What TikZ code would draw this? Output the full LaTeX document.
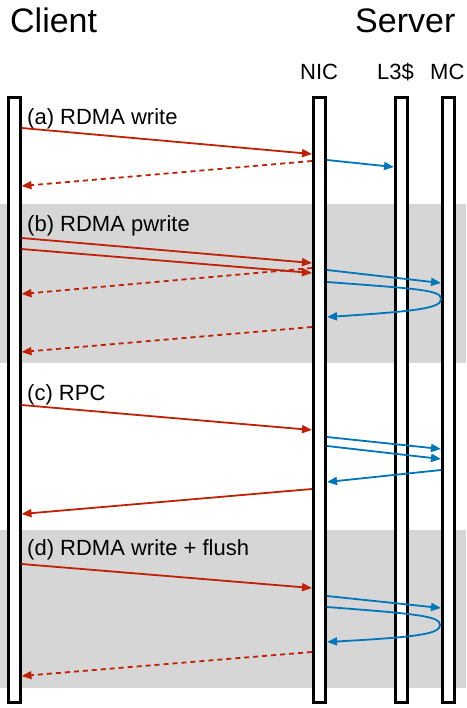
\documentclass[tikz,border=0pt]{standalone}
\usepackage{fontspec}
\setmainfont{Liberation Sans}
\usetikzlibrary{arrows.meta}
\definecolor{myred}{RGB}{192,32,4}
\definecolor{myblue}{RGB}{0,118,186}
\definecolor{band}{RGB}{214,214,214}
\begin{document}
\begin{tikzpicture}[x=1pt,y=-1pt,
  bar/.style={draw=black,fill=white,line width=3pt,rectangle,minimum width=12pt,minimum height=605pt,inner sep=0pt},
  tip/.style={-{Triangle[length=10pt,width=8pt]}},
  req/.style={tip,draw=myred,line width=1.8pt},
  ack/.style={req,dash pattern=on 5pt off 4pt},
  mem/.style={tip,draw=myblue,line width=1.8pt},
  lbl/.style={font=\fontsize{22}{26}\selectfont,inner sep=0pt,anchor=base west},
  big/.style={font=\fontsize{34}{40}\selectfont,inner sep=0pt,anchor=base west}]
\useasboundingbox (0,0) rectangle (466,708);
\fill[band] (0,204) rectangle (466,363);
\fill[band] (0,530) rectangle (466,688);
\node[bar] (client) at (14,400) {};
\node[bar] (nic) at (319.5,400) {};
\node[bar] (l3) at (401.5,400) {};
\node[bar] (mc) at (448.5,400) {};
\node[big] (tclient) at (10,33) {Client};
\node[big] (tserver) at (355,33) {Server};
\node[lbl] (tnic) at (300,80) {NIC};
\node[lbl] (tl3) at (377,80) {L3\$};
\node[lbl] (tmc) at (430,80) {MC};
\node[lbl] (la) at (27,125) {(a) RDMA write};
\node[lbl] (lb) at (27,232) {(b) RDMA pwrite};
\node[lbl] (lc) at (27,400) {(c) RPC};
\node[lbl] (ld) at (27,555) {(d) RDMA write + flush};
% (a)
\draw[req] (client.east |- 0,128) -- (nic.west |- 0,154);
\draw[ack] (nic.west |- 0,161) -- (client.east |- 0,186);
\draw[mem] (nic.east |- 0,160) -- (l3.west |- 0,167);
% (b)
\draw[req] (client.east |- 0,238) -- (nic.west |- 0,263);
\draw[req] (client.east |- 0,249) -- (nic.west |- 0,273);
\draw[ack] (nic.west |- 0,268) -- (client.east |- 0,294);
\draw[mem] (nic.east |- 0,270) -- (mc.west |- 0,283);
\draw[mem] (nic.east |- 0,282) .. controls (420,289) and (441,290) .. (441,299)
  .. controls (441,308) and (420,311) .. (nic.east |- 0,317);
\draw[ack] (nic.west |- 0,327) -- (client.east |- 0,352);
% (c)
\draw[req] (client.east |- 0,405) -- (nic.west |- 0,430);
\draw[mem] (nic.east |- 0,437) -- (mc.west |- 0,449);
\draw[mem] (nic.east |- 0,446) -- (mc.west |- 0,459);
\draw[mem] (mc.west |- 0,470) -- (nic.east |- 0,482);
\draw[req] (nic.west |- 0,489) -- (client.east |- 0,514);
% (d)
\draw[req] (client.east |- 0,564) -- (nic.west |- 0,588);
\draw[mem] (nic.east |- 0,596) -- (mc.west |- 0,608);
\draw[mem] (nic.east |- 0,607) .. controls (418,614) and (440,616) .. (440,625)
  .. controls (440,634) and (418,637) .. (nic.east |- 0,642);
\draw[ack] (nic.west |- 0,652) -- (client.east |- 0,676);
\end{tikzpicture}
\end{document}
